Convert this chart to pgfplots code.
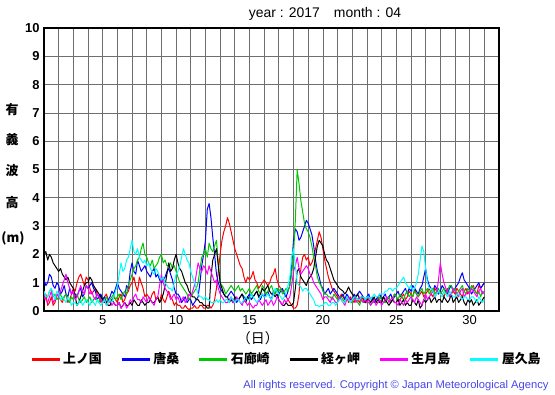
\documentclass[border=0pt]{standalone}
\usepackage{fontspec}
\setmainfont{Liberation Sans}
\newfontfamily\jp{Noto Sans CJK JP}
\usepackage{pgfplots}
\usepackage{pgfplotstable}
\pgfplotsset{compat=1.18}
\definecolor{cR}{RGB}{255,0,0}
\definecolor{cB}{RGB}{0,0,255}
\definecolor{cG}{RGB}{0,200,0}
\definecolor{cK}{RGB}{0,0,0}
\definecolor{cM}{RGB}{255,0,255}
\definecolor{cC}{RGB}{0,255,255}
\definecolor{gridc}{RGB}{110,110,110}
\definecolor{copyc}{RGB}{70,70,235}
\pgfplotstableread{
x R B G K M C
1.000 0.4 1.1 0.7 2.0 0.6 0.7
1.125 0.6 0.9 0.5 2.1 0.4 0.5
1.250 0.2 1.0 0.5 1.8 0.3 0.5
1.375 0.3 1.3 0.7 2.0 0.5 0.7
1.500 0.5 1.2 0.8 1.9 0.7 0.8
1.625 0.2 0.9 0.5 1.7 0.3 0.6
1.750 0.3 0.8 0.6 1.6 0.4 0.4
1.875 0.6 1.0 0.4 1.5 0.6 0.7
2.000 0.5 0.9 0.5 1.4 0.5 0.6
2.125 0.4 0.6 0.6 1.5 0.7 0.4
2.250 0.3 0.7 0.4 1.3 0.9 0.5
2.375 0.5 0.9 0.5 1.2 1.1 0.4
2.500 0.6 0.6 0.6 1.1 1.3 0.3
2.625 0.3 0.5 0.4 1.2 1.0 0.5
2.750 0.4 0.8 0.3 1.0 0.8 0.4
2.875 0.6 0.6 0.5 0.9 0.6 0.2
3.000 0.8 0.7 0.4 0.8 0.7 0.3
3.125 0.7 0.6 0.5 0.5 0.4 0.3
3.250 1.0 0.5 0.6 0.2 0.5 0.2
3.375 1.2 0.7 0.4 0.3 0.7 0.3
3.500 1.3 0.8 0.3 0.5 0.9 0.4
3.625 1.1 0.5 0.4 0.7 0.7 0.2
3.750 0.9 0.6 0.5 0.9 0.6 0.3
3.875 1.2 0.9 0.3 1.0 0.9 0.4
4.000 1.1 0.8 0.4 1.0 0.8 0.3
4.125 0.8 0.9 0.5 1.2 0.6 0.2
4.250 0.6 1.0 0.3 1.1 0.7 0.4
4.375 0.7 0.8 0.4 0.9 0.5 0.3
4.500 0.8 0.7 0.5 0.8 0.4 0.2
4.625 0.6 0.4 0.4 0.7 0.6 0.4
4.750 0.5 0.5 0.3 0.6 0.5 0.3
4.875 0.3 0.6 0.5 0.5 0.4 0.2
5.000 0.4 0.4 0.3 0.4 0.3 0.3
5.125 0.5 0.5 0.4 0.3 0.4 0.4
5.250 0.6 0.3 0.5 0.3 0.2 0.2
5.375 0.4 0.4 0.3 0.2 0.3 0.3
5.500 0.3 0.5 0.4 0.2 0.4 0.4
5.625 0.4 0.7 0.5 0.4 0.2 0.3
5.750 0.5 0.6 0.6 0.3 0.3 0.5
5.875 0.4 0.8 0.4 0.2 0.2 0.7
6.000 0.3 1.0 0.5 0.2 0.2 0.9
6.125 0.5 0.8 0.6 0.3 0.3 1.3
6.250 0.6 0.7 0.4 0.1 0.1 1.7
6.375 0.3 0.6 0.6 0.2 0.2 1.4
6.500 0.4 0.5 0.7 0.3 0.3 1.5
6.625 0.6 0.9 0.6 0.2 0.1 1.8
6.750 0.7 0.8 0.9 0.2 0.2 1.9
6.875 0.9 1.4 1.1 0.3 0.4 2.2
7.000 1.0 1.7 1.3 0.2 0.3 2.5
7.125 1.2 1.4 1.5 0.4 0.5 2.1
7.250 0.9 1.3 1.6 0.3 0.6 2.0
7.375 0.7 1.8 1.8 0.2 0.4 2.2
7.500 1.2 1.6 1.9 0.2 0.4 1.9
7.625 1.0 1.4 2.2 0.4 0.3 1.8
7.750 0.8 1.5 2.4 0.3 0.5 1.7
7.875 0.5 1.6 2.0 0.2 0.4 1.8
8.000 0.6 1.4 1.9 0.3 0.3 1.6
8.125 0.5 1.3 1.7 0.3 0.5 1.7
8.250 0.4 1.2 1.6 0.4 0.4 1.5
8.375 0.6 1.4 1.8 0.3 0.3 1.4
8.500 0.7 1.5 1.5 0.3 0.2 1.3
8.625 0.4 1.2 1.6 0.4 0.4 1.5
8.750 0.5 1.3 1.7 0.5 0.5 1.4
8.875 0.3 1.1 1.9 0.3 0.9 1.2
9.000 0.6 1.0 2.0 0.4 1.3 1.1
9.125 0.4 1.1 1.7 0.6 1.0 1.2
9.250 0.3 1.2 1.8 0.9 0.8 1.0
9.375 0.5 1.4 1.6 1.3 0.7 0.9
9.500 0.7 1.5 1.6 1.7 0.6 0.8
9.625 0.5 1.3 1.7 1.4 0.4 0.8
9.750 0.4 1.1 1.5 1.5 0.5 0.7
9.875 0.2 0.8 1.6 1.8 0.6 1.0
10.000 0.3 0.6 1.4 2.0 0.4 1.3
10.125 0.2 0.6 1.2 1.7 0.5 1.4
10.250 0.2 0.5 1.0 1.5 0.3 1.6
10.375 0.1 0.3 0.9 1.4 0.4 1.9
10.500 0.1 0.4 0.8 1.2 0.5 2.2
10.625 0.2 0.5 0.7 1.0 0.3 2.0
10.750 0.1 0.3 0.6 0.9 0.4 1.8
10.875 0.05 0.4 0.4 0.7 0.6 1.7
11.000 0.1 0.4 0.5 0.6 0.5 1.4
11.125 0.1 0.2 0.6 0.5 0.7 1.2
11.250 0.2 0.3 0.7 0.5 0.9 1.0
11.375 0.1 0.4 0.8 0.4 1.3 0.8
11.500 0.1 0.5 1.0 0.4 1.7 0.6
11.625 0.2 1.0 1.5 0.3 1.5 0.5
11.750 0.2 1.6 1.9 0.3 1.4 0.5
11.875 0.1 2.0 2.0 0.2 1.6 0.4
12.000 0.1 2.5 2.2 0.2 1.5 0.5
12.125 0.2 3.6 1.9 0.1 1.3 0.4
12.250 0.2 3.8 2.4 0.1 1.6 0.4
12.375 0.1 3.3 2.2 1.2 1.4 0.3
12.500 0.2 2.6 2.1 1.8 1.2 0.3
12.625 0.4 2.0 2.3 2.0 1.0 0.3
12.750 0.8 1.3 2.5 2.2 1.1 0.4
12.875 1.4 1.0 1.7 1.6 0.8 0.3
13.000 2.0 0.8 1.0 1.0 0.6 0.4
13.125 2.5 0.7 0.9 0.8 0.5 0.3
13.250 2.8 0.6 0.8 0.6 0.4 0.3
13.375 3.0 0.5 0.6 0.5 0.3 0.4
13.500 3.3 0.5 0.7 0.5 0.3 0.4
13.625 3.1 0.6 0.8 0.3 0.4 0.3
13.750 2.8 0.7 0.9 0.4 0.5 0.5
13.875 2.5 0.6 0.8 0.3 0.3 0.4
14.000 2.2 0.5 0.7 0.5 0.3 0.3
14.125 2.0 0.3 0.8 0.4 0.5 0.4
14.250 1.8 0.4 0.9 0.4 0.4 0.4
14.375 1.6 0.5 0.7 0.5 0.3 0.3
14.500 1.5 0.6 0.8 0.6 0.2 0.3
14.625 1.2 0.5 0.7 0.4 0.4 0.4
14.750 1.0 0.4 0.6 0.3 0.3 0.5
14.875 1.2 0.5 0.7 0.5 0.2 0.4
15.000 1.1 0.6 0.8 0.4 0.3 0.4
15.125 1.2 0.4 0.6 0.6 0.2 0.6
15.250 1.4 0.5 0.7 0.5 0.1 0.5
15.375 1.1 0.6 0.8 0.6 0.2 0.4
15.500 1.0 0.7 0.9 0.7 0.2 0.3
15.625 0.8 0.5 0.7 0.5 0.4 0.4
15.750 0.9 0.4 0.6 0.6 0.3 0.5
15.875 1.0 0.6 0.9 0.8 0.2 0.6
16.000 1.1 0.5 0.8 0.7 0.3 0.5
16.125 1.0 0.6 0.6 0.8 0.4 0.5
16.250 0.9 0.7 0.7 0.9 0.2 0.6
16.375 1.0 0.5 0.8 0.7 0.3 0.5
16.500 1.2 0.4 0.9 0.6 0.4 0.4
16.625 1.3 0.7 0.7 0.6 0.2 0.6
16.750 1.5 0.6 0.6 0.5 0.3 0.8
16.875 1.1 0.8 0.8 0.6 0.5 0.7
17.000 0.9 0.6 0.7 0.4 0.4 0.6
17.125 0.8 0.7 0.8 0.3 0.3 0.5
17.250 0.7 0.8 0.6 0.2 0.2 0.4
17.375 0.6 0.6 0.7 0.2 0.4 0.5
17.500 0.5 0.5 0.8 0.3 0.3 0.7
17.625 0.4 0.7 0.7 0.2 0.4 0.9
17.750 0.3 0.9 0.9 0.2 0.5 1.2
17.875 0.2 1.6 1.3 0.2 0.9 1.9
18.000 0.1 2.5 2.0 0.3 1.4 2.2
18.125 0.1 2.9 3.2 0.8 1.6 1.6
18.250 0.2 2.8 5.0 1.4 1.9 1.0
18.375 0.6 2.5 4.5 1.5 1.5 0.9
18.500 1.5 2.6 3.9 1.2 1.3 0.85
18.625 1.9 2.8 3.5 1.1 1.4 0.7
18.750 2.0 3.0 3.1 1.0 1.5 0.8
18.875 1.8 3.2 2.9 0.9 1.6 0.8
19.000 1.9 3.1 2.8 1.1 1.5 0.7
19.125 1.6 2.9 2.6 1.2 1.3 0.6
19.250 1.7 2.7 2.3 1.3 1.2 0.5
19.375 1.9 2.3 1.9 1.5 1.0 0.4
19.500 2.2 1.8 1.6 1.9 0.9 0.2
19.625 2.5 1.4 1.2 2.3 0.8 0.2
19.750 2.8 1.2 1.0 2.5 0.7 0.15
19.875 2.6 0.9 0.9 2.4 0.6 0.2
20.000 2.2 0.8 0.7 2.3 0.4 0.2
20.125 1.8 0.6 0.6 2.0 0.5 0.3
20.250 1.5 0.7 0.6 1.8 0.5 0.3
20.375 1.2 0.8 0.5 1.7 0.4 0.2
20.500 1.0 0.6 0.5 1.5 0.3 0.2
20.625 0.8 0.7 0.4 1.3 0.5 0.3
20.750 0.7 0.8 0.6 1.1 0.4 0.3
20.875 0.6 0.7 0.5 1.0 0.3 0.2
21.000 0.5 0.6 0.4 0.9 0.3 0.3
21.125 0.4 0.5 0.5 0.8 0.5 0.4
21.250 0.6 0.5 0.5 0.75 0.4 0.4
21.375 0.5 0.6 0.4 0.7 0.3 0.3
21.500 0.4 0.4 0.3 0.6 0.2 0.3
21.625 0.5 0.6 0.5 0.7 0.4 0.5
21.750 0.3 0.5 0.4 0.85 0.5 0.4
21.875 0.5 0.4 0.3 0.7 0.3 0.3
22.000 0.4 0.4 0.3 0.6 0.4 0.4
22.125 0.3 0.6 0.5 0.5 0.5 0.5
22.250 0.5 0.5 0.4 0.5 0.3 0.5
22.375 0.4 0.6 0.3 0.6 0.4 0.4
22.500 0.3 0.7 0.2 0.4 0.5 0.4
22.625 0.5 0.6 0.4 0.5 0.4 0.5
22.750 0.4 0.5 0.3 0.5 0.3 0.5
22.875 0.3 0.4 0.4 0.3 0.4 0.4
23.000 0.3 0.5 0.3 0.4 0.3 0.5
23.125 0.5 0.6 0.3 0.4 0.4 0.5
23.250 0.4 0.4 0.2 0.3 0.2 0.4
23.375 0.4 0.5 0.3 0.4 0.3 0.5
23.500 0.3 0.3 0.4 0.5 0.4 0.6
23.625 0.4 0.4 0.3 0.3 0.2 0.5
23.750 0.5 0.5 0.3 0.4 0.3 0.5
23.875 0.3 0.6 0.5 0.3 0.4 0.6
24.000 0.4 0.4 0.4 0.3 0.2 0.6
24.125 0.5 0.5 0.3 0.5 0.3 0.6
24.250 0.3 0.6 0.3 0.4 0.4 0.7
24.375 0.4 0.4 0.4 0.3 0.5 0.7
24.500 0.5 0.5 0.5 0.2 0.3 0.8
24.625 0.3 0.6 0.3 0.3 0.4 0.8
24.750 0.4 0.4 0.4 0.4 0.5 0.7
24.875 0.6 0.5 0.6 0.3 0.3 0.8
25.000 0.5 0.6 0.5 0.3 0.3 0.8
25.125 0.4 0.7 0.4 0.4 0.2 0.9
25.250 0.4 0.5 0.6 0.2 0.4 1.0
25.375 0.5 0.6 0.5 0.3 0.3 1.1
25.500 0.6 0.7 0.4 0.4 0.2 1.2
25.625 0.4 0.8 0.6 0.2 0.4 1.0
25.750 0.5 0.6 0.7 0.3 0.3 0.9
25.875 0.7 0.8 0.5 0.2 0.4 0.8
26.000 0.6 0.7 0.6 0.2 0.5 0.9
26.125 0.5 0.9 0.5 0.4 0.4 0.7
26.250 0.8 0.8 0.7 0.3 0.3 0.8
26.375 0.6 0.7 0.6 0.2 0.5 1.0
26.500 0.5 0.6 0.5 0.4 0.4 1.3
26.625 0.6 0.8 0.7 0.1 0.3 1.8
26.750 0.7 0.9 0.8 0.2 0.2 2.3
26.875 0.5 1.2 0.6 0.4 0.4 2.1
27.000 0.6 1.5 0.7 0.3 0.6 1.5
27.125 0.7 1.1 0.8 0.4 0.4 1.0
27.250 0.8 0.9 0.6 0.5 0.5 0.8
27.375 0.6 0.8 0.7 0.3 0.6 0.8
27.500 0.5 0.7 0.8 0.4 0.7 0.7
27.625 0.8 0.9 0.6 0.5 0.5 0.5
27.750 0.7 0.8 0.7 0.3 0.6 0.6
27.875 0.6 0.6 0.8 0.4 1.1 0.7
28.000 0.7 0.7 0.6 0.4 1.7 0.6
28.125 0.6 0.9 0.7 0.3 1.3 0.5
28.250 0.5 0.8 0.8 0.5 1.0 0.7
28.375 0.7 0.7 0.6 0.4 0.8 0.6
28.500 0.8 0.6 0.7 0.3 0.7 0.5
28.625 0.5 0.8 0.9 0.4 0.5 0.7
28.750 0.6 0.9 0.9 0.6 0.6 0.6
28.875 0.7 0.7 0.7 0.3 0.8 0.5
29.000 0.6 0.8 0.8 0.4 0.7 0.5
29.125 0.8 0.9 0.6 0.5 0.6 0.6
29.250 0.7 1.0 0.7 0.3 0.5 0.6
29.375 0.6 1.2 0.8 0.4 0.7 0.5
29.500 0.5 1.35 0.9 0.5 0.8 0.4
29.625 0.7 1.1 0.7 0.3 0.5 0.5
29.750 0.8 1.0 0.6 0.2 0.6 0.5
29.875 0.6 0.9 0.8 0.4 0.7 0.4
30.000 0.7 0.8 0.7 0.3 0.6 0.4
30.125 0.8 0.6 0.9 0.4 0.8 0.5
30.250 0.9 0.7 0.8 0.2 0.7 0.5
30.375 0.7 0.8 0.7 0.3 0.6 0.4
30.500 0.6 0.9 0.6 0.4 0.5 0.3
30.625 0.9 1.0 0.7 0.2 0.7 0.5
30.750 0.8 0.8 0.5 0.3 0.8 0.4
30.875 0.9 0.9 0.7 0.4 0.6 0.3
31.000 1.0 1.0 0.6 0.5 0.7 0.4
}\wave
\begin{document}
\begin{tikzpicture}
\path[use as bounding box] (0,0) rectangle (555bp,395bp);
\begin{axis}[
  at={(44bp,84bp)}, anchor=south west,
  scale only axis, width=455bp, height=283bp,
  xmin=1, xmax=32, ymin=0, ymax=10,
  xtick={5,10,...,30}, minor xtick={1,...,32},
  ytick={0,...,10},
  grid=both,
  major grid style={draw=gridc, line width=0.7bp},
  minor grid style={draw=gridc, line width=0.7bp},
  major tick length=0pt, minor tick length=0pt,
  axis line style={line width=1.3bp},
  /pgf/number format/assume math mode=true,
  xticklabel style={font=\fontsize{13}{13}\selectfont, yshift=-1bp},
  yticklabel style={font=\fontsize{13}{13}\selectfont\bfseries, xshift=-1bp},
  xlabel={\jp （日）},
  xlabel style={font=\fontsize{14}{14}\selectfont, at={(axis description cs:0.47,-0.095)}, anchor=center},
  legend columns=6,
  legend style={at={(axis description cs:-0.031,-0.170)}, anchor=west, draw=none, fill=none, inner sep=0pt,
    font=\jp\bfseries\fontsize{13}{13}\selectfont,
    /tikz/every even column/.append style={column sep=16.5bp}},
  legend image code/.code={\draw[line width=3bp] (0bp,0bp) -- (28bp,0bp);},
  every axis plot/.append style={line width=1bp, line join=round},
]
\addplot[cR] table[x=x, y=R] {\wave};
\addplot[cB] table[x=x, y=B] {\wave};
\addplot[cG] table[x=x, y=G] {\wave};
\addplot[cK] table[x=x, y=K] {\wave};
\addplot[cM] table[x=x, y=M] {\wave};
\addplot[cC] table[x=x, y=C] {\wave};
\legend{上ノ国,唐桑,石廊崎,経ヶ岬,生月島,屋久島}
\end{axis}
\node[font=\fontsize{14}{14}\selectfont] at (325bp,381bp) {year : 2017\hspace{14bp}month : 04};
\begin{scope}[every node/.style={font=\jp\bfseries\fontsize{13}{13}\selectfont}]
\node at (12bp,285bp) {有};
\node at (12bp,255bp) {義};
\node at (12bp,224bp) {波};
\node at (12bp,192bp) {高};
\node at (13bp,157bp) {(m)};
\end{scope}
\node[anchor=east, text=copyc, font=\fontsize{11.2}{11.2}\selectfont] at (552bp,9bp) {All rights reserved. Copyright © Japan Meteorological Agency};
\end{tikzpicture}
\end{document}
